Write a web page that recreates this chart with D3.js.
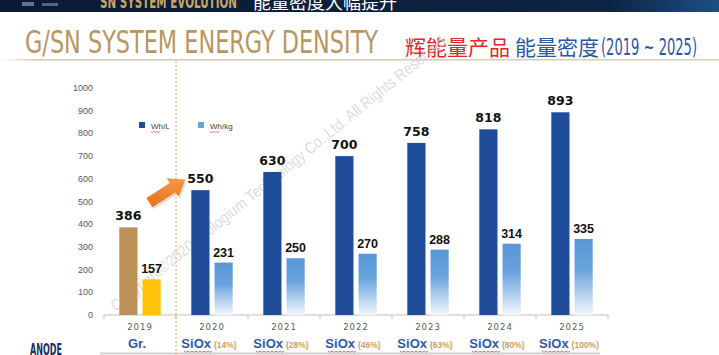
<!DOCTYPE html>
<html><head><meta charset="utf-8">
<script src="https://cdn.jsdelivr.net/npm/d3@7"></script>
<style>html,body{margin:0;padding:0;background:#fff;overflow:hidden}svg{display:block}</style>
</head><body>
<svg id="c" width="719" height="355"></svg>
<script>
const years = ["2019","2020","2021","2022","2023","2024","2025"];
const whL   = [386, 550, 630, 700, 758, 818, 893];
const whKg  = [157, 231, 250, 270, 288, 314, 335];
const anodeMat = ["Gr.","SiOx","SiOx","SiOx","SiOx","SiOx","SiOx"];
const anodePct = ["", "(14%)", "(28%)", "(46%)", "(63%)", "(80%)", "(100%)"];
const yTicks = [0,100,200,300,400,500,600,700,800,900,1000];
const seriesNames = ["Wh/L","Wh/kg"];

const svg = d3.select("#c");
const defs = svg.append("defs");
const lg = defs.append("linearGradient").attr("id","lb").attr("x1",0).attr("y1",0).attr("x2",0).attr("y2",1);
lg.append("stop").attr("offset","0%").attr("stop-color","#5797d6");
lg.append("stop").attr("offset","40%").attr("stop-color","#69a3dc");
lg.append("stop").attr("offset","100%").attr("stop-color","#f2f7fd");
const hg = defs.append("linearGradient").attr("id","hd").attr("x1",0).attr("y1",0).attr("x2",1).attr("y2",0);
hg.append("stop").attr("offset","0%").attr("stop-color","#0a1a33");
hg.append("stop").attr("offset","85%").attr("stop-color","#0d2444");
hg.append("stop").attr("offset","100%").attr("stop-color","#1d4f86");
const rg = defs.append("linearGradient").attr("id","rule").attr("x1",0).attr("y1",0).attr("x2",1).attr("y2",0);
rg.append("stop").attr("offset","0%").attr("stop-color","#fff");
rg.append("stop").attr("offset","5%").attr("stop-color","#d6c9b2");
rg.append("stop").attr("offset","100%").attr("stop-color","#d9cdb8");
const ag = defs.append("linearGradient").attr("id","arr").attr("x1",0).attr("y1",0).attr("x2",0).attr("y2",1);
ag.append("stop").attr("offset","0%").attr("stop-color","#f59a45");
ag.append("stop").attr("offset","100%").attr("stop-color","#e8701c");

// header band
svg.append("rect").attr("x",0).attr("y",0).attr("width",719).attr("height",12).attr("fill","url(#hd)");
svg.append("text").attr("x",100).attr("y",8).attr("font-family","DejaVu Sans").attr("font-weight","bold")
  .attr("font-size",17).attr("fill","#c8a565").attr("textLength",137).attr("lengthAdjust","spacingAndGlyphs")
  .text("SN SYSTEM EVOLUTION");
svg.append("text").attr("x",253).attr("y",9).attr("font-family","Noto Sans CJK SC").attr("font-size",18)
  .attr("fill","#ffffff").text("能量密度大幅提升");
svg.append("rect").attr("x",22).attr("y",2).attr("width",12).attr("height",4).attr("fill","#8a98ad").attr("opacity",0.7);
svg.append("rect").attr("x",42).attr("y",3).attr("width",16).attr("height",3).attr("fill","#8a98ad").attr("opacity",0.6);

// title
svg.append("text").attr("x",25).attr("y",53).attr("font-family","DejaVu Sans Condensed, DejaVu Sans")
  .attr("font-size",31.5).attr("fill","#b99660").attr("textLength",353).attr("lengthAdjust","spacingAndGlyphs")
  .text("G/SN SYSTEM ENERGY DENSITY");
const sub = svg.append("text").attr("y",55).attr("font-family","Noto Sans CJK SC").attr("font-size",21);
sub.append("tspan").attr("x",405).attr("fill","#e3262d").text("辉能量产品");
svg.append("text").attr("x",515).attr("y",55).attr("font-family","Noto Sans CJK SC").attr("font-size",21)
  .attr("fill","#2b58a6").attr("textLength",84).attr("lengthAdjust","spacingAndGlyphs").text("能量密度");
svg.append("text").attr("x",601).attr("y",55).attr("font-family","DejaVu Sans Condensed, DejaVu Sans")
  .attr("font-size",23).attr("fill","#2b58a6").attr("textLength",96).attr("lengthAdjust","spacingAndGlyphs")
  .text("(2019 ~ 2025)");
svg.append("rect").attr("x",0).attr("y",59).attr("width",719).attr("height",1.5).attr("fill","url(#rule)");

// scales
const x = d3.scaleBand().domain(years).range([104, 608]).padding(0);
const xs = d3.scaleBand().domain(seriesNames).range([0, x.bandwidth()]).paddingInner(0.217).paddingOuter(0.66);
const y = d3.scaleLinear().domain([0, 1000]).range([315, 88]);

// watermark
svg.append("text").attr("transform","translate(116,312) rotate(-39)")
  .attr("font-family","Liberation Sans, Arial").attr("font-size",16).attr("fill","#cfcfcf").attr("opacity",0.7)
  .attr("textLength",430).attr("lengthAdjust","spacingAndGlyphs")
  .text("Copyright©2020 Prologium Technology Co.,Ltd. All Rights Reserved.");

// y axis labels
svg.append("g").selectAll("text").data(yTicks).join("text")
  .attr("x",93).attr("y",d=>y(d)+3).attr("text-anchor","end")
  .attr("font-family","Liberation Sans, Arial").attr("font-size",9).attr("fill","#595959").text(d=>d);

// x axis line + ticks
const xa = svg.append("g");
xa.append("line").attr("x1",x.range()[0]).attr("x2",x.range()[1]).attr("y1",y(0)).attr("y2",y(0))
  .attr("stroke","#bfbfbf").attr("stroke-width",1);
xa.selectAll("line.t").data(years.concat(["end"])).join("line").attr("class","t")
  .attr("x1",(d,i)=>x.range()[0]+i*x.step()).attr("x2",(d,i)=>x.range()[0]+i*x.step())
  .attr("y1",y(0)).attr("y2",y(0)+4).attr("stroke","#bfbfbf");

// bars
const colL = (i)=> i===0 ? "#bb9158" : "#1f4d99";
const colK = (i)=> i===0 ? "#fdc20a" : "url(#lb)";
const g = svg.append("g");
g.selectAll("rect.l").data(whL).join("rect").attr("class","l")
  .attr("x",(d,i)=>x(years[i])+xs("Wh/L")).attr("width",xs.bandwidth())
  .attr("y",d=>y(d)).attr("height",d=>y(0)-y(d)).attr("fill",(d,i)=>colL(i));
g.selectAll("rect.k").data(whKg).join("rect").attr("class","k")
  .attr("x",(d,i)=>x(years[i])+xs("Wh/kg")).attr("width",xs.bandwidth())
  .attr("y",d=>y(d)).attr("height",d=>y(0)-y(d)).attr("fill",(d,i)=>colK(i));

// value labels
g.selectAll("text.l").data(whL).join("text").attr("class","l")
  .attr("x",(d,i)=>x(years[i])+xs("Wh/L")+xs.bandwidth()/2).attr("y",d=>y(d)-7)
  .attr("text-anchor","middle").attr("font-family","DejaVu Sans").attr("font-weight","bold")
  .attr("font-size",12.5).attr("fill","#111").text(d=>d);
g.selectAll("text.k").data(whKg).join("text").attr("class","k")
  .attr("x",(d,i)=>x(years[i])+xs("Wh/kg")+xs.bandwidth()/2).attr("y",d=>y(d)-6)
  .attr("text-anchor","middle").attr("font-family","Liberation Sans, Arial").attr("font-weight","bold")
  .attr("font-size",12.5).attr("fill","#111").text(d=>d);

// year labels
svg.append("g").selectAll("text").data(years).join("text")
  .attr("x",d=>x(d)+x.bandwidth()/2).attr("y",330).attr("text-anchor","middle")
  .attr("font-family","DejaVu Sans").attr("font-size",8.5).attr("letter-spacing",1).attr("fill","#595959").text(d=>d);

// anode labels
const an = svg.append("g").selectAll("text").data(years).join("text")
  .attr("x",d=>x(d)+x.bandwidth()/2-3).attr("y",348).attr("text-anchor","middle")
  .attr("font-family","Liberation Sans, Arial").attr("font-weight","bold");
an.append("tspan").attr("font-size",13).attr("fill","#2d5aa8").text((d,i)=>anodeMat[i]);
an.append("tspan").attr("font-size",8.5).attr("fill","#c9a06a").attr("dx",3).text((d,i)=>anodePct[i]);
// spell-check underlines under SiOx
svg.append("g").selectAll("path").data(years.filter((d,i)=>anodeMat[i]==="SiOx")).join("path")
  .attr("d",d=>{const cx=x(d)+x.bandwidth()/2 - (anodePct[years.indexOf(d)].length>5?16:14); let p=`M${cx-14},351`; for(let k=0;k<7;k++){p+=` l2,1.5 l2,-1.5`;} return p;})
  .attr("fill","none").attr("stroke","#e04040").attr("stroke-width",0.8);

svg.append("text").attr("x",30).attr("y",354.5).attr("font-family","DejaVu Sans Condensed, DejaVu Sans")
  .attr("font-weight","bold").attr("font-size",15).attr("fill","#1b2f5c")
  .attr("textLength",32).attr("lengthAdjust","spacingAndGlyphs").text("ANODE");
svg.append("rect").attr("x",100).attr("y",352.5).attr("width",500).attr("height",2).attr("fill","#d0d0d0");

// legend
const leg = svg.append("g");
const legX = [139, 198];
const legC = ["#1f4d99", "#6aa4dc"];
seriesNames.forEach((s,i)=>{
  leg.append("rect").attr("x",legX[i]).attr("y",122).attr("width",6).attr("height",6).attr("fill",legC[i]);
  leg.append("text").attr("x",legX[i]+12).attr("y",129).attr("font-family","Liberation Sans, Arial")
    .attr("font-size",8).attr("fill","#404040").text(s);
  let p=`M${legX[i]+12},131.5`; for(let k=0;k<3;k++){p+=` l1.5,1 l1.5,-1`;}
  leg.append("path").attr("d",p).attr("fill","none").attr("stroke","#e04040").attr("stroke-width",0.7);
});

// divider
svg.append("line").attr("x1",x("2020")).attr("x2",x("2020")).attr("y1",61).attr("y2",355)
  .attr("stroke","#f0a060").attr("stroke-width",1).attr("stroke-dasharray","2,2");

// arrow
(function(){
  const x0 = x("2019")+x.bandwidth()*0.63, y0 = y(495);
  const x1 = x("2020")+xs("Wh/L")-6, y1 = y(597);
  const dx=x1-x0, dy=y1-y0, L=Math.hypot(dx,dy), ux=dx/L, uy=dy/L, nx=-uy, ny=ux;
  const hl=15, sw=5.5, hw=11;
  const bx=x1-ux*hl, by=y1-uy*hl;
  const pts=[[x0+nx*sw,y0+ny*sw],[bx+nx*sw,by+ny*sw],[bx+nx*hw,by+ny*hw],[x1,y1],[bx-nx*hw,by-ny*hw],[bx-nx*sw,by-ny*sw],[x0-nx*sw,y0-ny*sw]];
  svg.append("polygon").attr("points",pts.map(p=>p.join(",")).join(" ")).attr("fill","#c0c0c0").attr("opacity",0.5)
    .attr("transform","translate(1.5,2)");
  svg.append("polygon").attr("points",pts.map(p=>p.join(",")).join(" ")).attr("fill","url(#arr)");
})();
</script>
</body></html>
